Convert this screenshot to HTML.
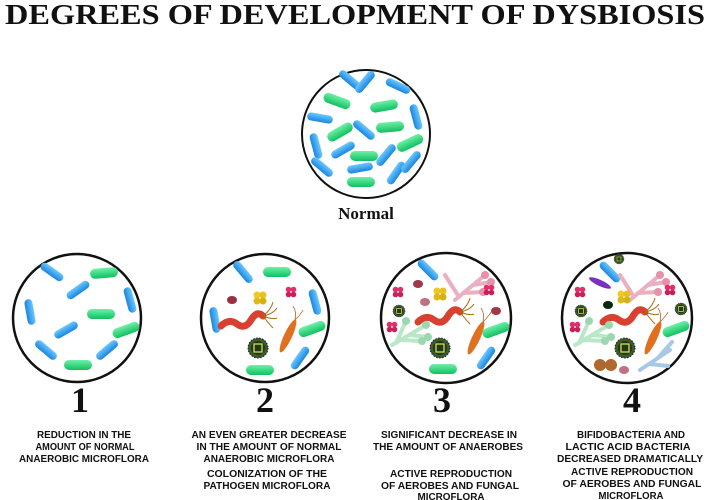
<!DOCTYPE html>
<html><head><meta charset="utf-8"><style>
html,body{margin:0;padding:0;background:#fff;}
svg{display:block}
.t{font-family:"Liberation Sans",sans-serif;font-weight:bold;font-size:10.5px;fill:#111;text-anchor:middle}
.n{font-family:"Liberation Serif",serif;font-weight:bold;font-size:36px;fill:#111;text-anchor:middle}
</style></head><body>
<svg width="711" height="500" viewBox="0 0 711 500" xmlns="http://www.w3.org/2000/svg">
<defs>
<linearGradient id="bl" x1="0" y1="0" x2="0" y2="1"><stop offset="0" stop-color="#6cc7ff"/><stop offset="1" stop-color="#1a86e0"/></linearGradient>
<linearGradient id="gr" x1="0" y1="0" x2="0" y2="1"><stop offset="0" stop-color="#6ff0a8"/><stop offset="1" stop-color="#10c060"/></linearGradient>
<g id="b"><rect x="-13" y="-4" width="26" height="8" rx="4" fill="url(#bl)"/></g>
<g id="g"><rect x="-14" y="-5" width="28" height="10" rx="5" fill="url(#gr)"/></g>
<g id="virus"><circle r="10" fill="#3a5a30" stroke="#222" stroke-width="1" stroke-dasharray="1.5 1.5"/><circle r="7" fill="#1d3a1a"/><rect x="-4" y="-4" width="8" height="8" fill="none" stroke="#e8d84a" stroke-width="1.3"/></g>
<g id="staph"><circle cx="-3" cy="-3" r="3.5" fill="#f0c820"/><circle cx="3" cy="-3" r="3.5" fill="#e8c020"/><circle cx="-3" cy="3" r="3.5" fill="#e0b818"/><circle cx="3" cy="3" r="3.5" fill="#d8b010"/></g>
<g id="pink"><circle cx="-2.5" cy="-2.5" r="2.8" fill="#e0306a"/><circle cx="2.5" cy="-2.5" r="2.8" fill="#e0306a"/><circle cx="-2.5" cy="2.5" r="2.8" fill="#c82058"/><circle cx="2.5" cy="2.5" r="2.8" fill="#c82058"/></g>
<g id="worm"><path d="M-22 4 Q-14 -4 -6 2 T8 -2 T20 -6" stroke="#d84030" stroke-width="7" fill="none" stroke-linecap="round"/><path d="M20 -6 q8 -6 10 -14 M20 -6 q10 -2 14 -8 M20 -6 q10 4 14 2 M20 -6 q6 8 10 12" stroke="#a86a10" stroke-width="1" fill="none"/></g>
<g id="rod"><ellipse rx="4" ry="18" fill="#e07020" transform="rotate(25)"/><path d="M7 -16 q2 -8 -2 -14 M7 -16 q6 -6 8 -10" stroke="#c06020" stroke-width="0.8" fill="none"/></g>
<g id="fungP"><path d="M0 0 L30 -25 M8 -7 L28 -8 M18 -15 L36 -18 M4 -3 L-10 -25" stroke="#e8b0c0" stroke-width="4" fill="none" stroke-linecap="round"/><circle cx="30" cy="-25" r="4" fill="#e890a8"/><circle cx="36" cy="-18" r="4" fill="#e890a8"/><circle cx="28" cy="-8" r="4" fill="#e890a8"/></g>
<g id="fungG"><path d="M0 0 L34 -20 M8 -5 L30 -4 M18 -10 L36 -8 M4 -2 L14 -24" stroke="#b8e8c8" stroke-width="4" fill="none" stroke-linecap="round"/><circle cx="34" cy="-20" r="4" fill="#9ad8b0"/><circle cx="36" cy="-8" r="4" fill="#9ad8b0"/><circle cx="30" cy="-4" r="4" fill="#9ad8b0"/><circle cx="14" cy="-24" r="4" fill="#9ad8b0"/></g>
</defs>

<text x="355" y="24" font-family="Liberation Serif,serif" font-weight="bold" font-size="29" text-anchor="middle" textLength="700" lengthAdjust="spacingAndGlyphs" fill="#111">DEGREES OF DEVELOPMENT OF DYSBIOSIS</text>

<!-- Normal -->
<circle cx="366" cy="134" r="64" fill="#fff" stroke="#111" stroke-width="2"/>
<use href="#b" transform="translate(350,80) rotate(40)"/>
<use href="#b" transform="translate(365,82) rotate(-50)"/>
<use href="#b" transform="translate(398,86) rotate(25)"/>
<use href="#b" transform="translate(416,117) rotate(75)"/>
<use href="#g" transform="translate(337,101) rotate(20)"/>
<use href="#g" transform="translate(384,106) rotate(-10)"/>
<use href="#b" transform="translate(320,118) rotate(10)"/>
<use href="#b" transform="translate(364,130) rotate(40)"/>
<use href="#g" transform="translate(340,132) rotate(-30)"/>
<use href="#g" transform="translate(390,127) rotate(-5)"/>
<use href="#b" transform="translate(316,146) rotate(75)"/>
<use href="#b" transform="translate(343,150) rotate(-30)"/>
<use href="#b" transform="translate(386,155) rotate(-50)"/>
<use href="#g" transform="translate(410,143) rotate(-25)"/>
<use href="#g" transform="translate(364,156) rotate(0)"/>
<use href="#b" transform="translate(322,167) rotate(40)"/>
<use href="#b" transform="translate(360,168) rotate(-10)"/>
<use href="#b" transform="translate(396,173) rotate(-55)"/>
<use href="#b" transform="translate(411,162) rotate(-50)"/>
<use href="#g" transform="translate(361,182)"/>
<text x="366" y="219" font-family="Liberation Serif,serif" font-weight="bold" font-size="17" text-anchor="middle" fill="#111">Normal</text>

<!-- 1 -->
<circle cx="77" cy="318" r="64" fill="#fff" stroke="#111" stroke-width="2.5"/>
<use href="#b" transform="translate(52,272) rotate(35)"/>
<use href="#g" transform="translate(104,273) rotate(-5)"/>
<use href="#b" transform="translate(78,290) rotate(-35)"/>
<use href="#b" transform="translate(130,300) rotate(75)"/>
<use href="#b" transform="translate(30,312) rotate(80)"/>
<use href="#g" transform="translate(101,314)"/>
<use href="#b" transform="translate(66,330) rotate(-30)"/>
<use href="#g" transform="translate(126,330) rotate(-20)"/>
<use href="#b" transform="translate(46,350) rotate(40)"/>
<use href="#b" transform="translate(107,350) rotate(-40)"/>
<use href="#g" transform="translate(78,365)"/>

<!-- 2 -->
<circle cx="265" cy="318" r="64" fill="#fff" stroke="#111" stroke-width="2.5"/>
<use href="#b" transform="translate(243,272) rotate(50)"/>
<use href="#g" transform="translate(277,272)"/>
<use href="#b" transform="translate(315,302) rotate(75)"/>
<use href="#b" transform="translate(215,320) rotate(80)"/>
<use href="#g" transform="translate(312,329) rotate(-20)"/>
<use href="#b" transform="translate(300,358) rotate(-55)"/>
<use href="#g" transform="translate(260,370)"/>
<ellipse cx="232" cy="300" rx="5" ry="4" fill="#9a3040"/>
<use href="#staph" transform="translate(260,298)"/>
<use href="#pink" transform="translate(291,292)"/>
<use href="#worm" transform="translate(243,322)"/>
<use href="#rod" transform="translate(288,336)"/>
<use href="#virus" transform="translate(258,348)"/>

<!-- 3 -->
<circle cx="446" cy="318" r="65" fill="#fff" stroke="#111" stroke-width="2.5"/>
<use href="#b" transform="translate(428,270) rotate(45)"/>
<use href="#fungP" transform="translate(455,300)"/>
<ellipse cx="418" cy="284" rx="5" ry="4" fill="#a03848"/>
<ellipse cx="425" cy="302" rx="5" ry="4" fill="#c07080"/>
<use href="#pink" transform="translate(398,292)"/>
<use href="#pink" transform="translate(489,290)"/>
<use href="#pink" transform="translate(392,327)"/>
<use href="#staph" transform="translate(440,294)"/>
<use href="#virus" transform="translate(399,311) scale(0.6)"/>
<use href="#worm" transform="translate(440,318)"/>
<ellipse cx="496" cy="311" rx="5" ry="4" fill="#a03848"/>
<use href="#fungG" transform="translate(392,345)"/>
<use href="#rod" transform="translate(476,338)"/>
<use href="#g" transform="translate(496,330) rotate(-20)"/>
<use href="#virus" transform="translate(440,348)"/>
<use href="#b" transform="translate(486,358) rotate(-55)"/>
<use href="#g" transform="translate(443,369)"/>

<!-- 4 -->
<circle cx="627" cy="318" r="65" fill="#fff" stroke="#111" stroke-width="2.5"/>
<use href="#virus" transform="translate(619,259) scale(0.5)"/>
<use href="#b" transform="translate(610,272) rotate(45)"/>
<ellipse cx="600" cy="283" rx="12" ry="3" fill="#7a30c0" transform="rotate(25 600 283)"/>
<use href="#fungP" transform="translate(630,300)"/>
<use href="#pink" transform="translate(580,292)"/>
<use href="#pink" transform="translate(670,290)"/>
<use href="#staph" transform="translate(624,297)"/>
<ellipse cx="608" cy="305" rx="5" ry="4" fill="#0a2a10"/>
<use href="#virus" transform="translate(581,311) scale(0.6)"/>
<use href="#virus" transform="translate(681,309) scale(0.6)"/>
<use href="#pink" transform="translate(575,327)"/>
<use href="#worm" transform="translate(625,318)"/>
<use href="#fungG" transform="translate(575,345)"/>
<use href="#rod" transform="translate(653,338)"/>
<use href="#g" transform="translate(676,329) rotate(-20)"/>
<use href="#virus" transform="translate(625,348)"/>
<g transform="translate(640,370)"><path d="M0 0 L30 -20 M10 -6 L28 -4 M18 -12 L32 -28" stroke="#a8c8e8" stroke-width="4" fill="none" stroke-linecap="round"/></g>
<circle cx="600" cy="365" r="6" fill="#b06830"/><circle cx="611" cy="365" r="6" fill="#b06830"/>
<ellipse cx="624" cy="370" rx="5" ry="4" fill="#c07080"/>

<!-- numbers -->
<text class="n" x="80" y="412">1</text>
<text class="n" x="265" y="412">2</text>
<text class="n" x="442" y="412">3</text>
<text class="n" x="632" y="412">4</text>

<g class="t">
<text x="84" y="438" textLength="94" lengthAdjust="spacingAndGlyphs">REDUCTION IN THE</text>
<text x="85" y="450" textLength="99" lengthAdjust="spacingAndGlyphs">AMOUNT OF NORMAL</text>
<text x="84" y="462" textLength="130" lengthAdjust="spacingAndGlyphs">ANAEROBIC MICROFLORA</text>

<text x="269" y="438" textLength="155" lengthAdjust="spacingAndGlyphs">AN EVEN GREATER DECREASE</text>
<text x="269" y="450" textLength="145" lengthAdjust="spacingAndGlyphs">IN THE AMOUNT OF NORMAL</text>
<text x="269" y="462" textLength="131" lengthAdjust="spacingAndGlyphs">ANAEROBIC MICROFLORA</text>
<text x="267" y="477" textLength="120" lengthAdjust="spacingAndGlyphs">COLONIZATION OF THE</text>
<text x="267" y="489" textLength="127" lengthAdjust="spacingAndGlyphs">PATHOGEN MICROFLORA</text>

<text x="449" y="438" textLength="136" lengthAdjust="spacingAndGlyphs">SIGNIFICANT DECREASE IN</text>
<text x="448" y="450" textLength="150" lengthAdjust="spacingAndGlyphs">THE AMOUNT OF ANAEROBES</text>
<text x="451" y="477" textLength="122" lengthAdjust="spacingAndGlyphs">ACTIVE REPRODUCTION</text>
<text x="450" y="489" textLength="138" lengthAdjust="spacingAndGlyphs">OF AEROBES AND FUNGAL</text>
<text x="451" y="500" textLength="67" lengthAdjust="spacingAndGlyphs">MICROFLORA</text>

<text x="631" y="438" textLength="108" lengthAdjust="spacingAndGlyphs">BIFIDOBACTERIA AND</text>
<text x="628" y="450" textLength="125" lengthAdjust="spacingAndGlyphs">LACTIC ACID BACTERIA</text>
<text x="630" y="462" textLength="146" lengthAdjust="spacingAndGlyphs">DECREASED DRAMATICALLY</text>
<text x="632" y="475" textLength="122" lengthAdjust="spacingAndGlyphs">ACTIVE REPRODUCTION</text>
<text x="632" y="487" textLength="139" lengthAdjust="spacingAndGlyphs">OF AEROBES AND FUNGAL</text>
<text x="631" y="499" textLength="65" lengthAdjust="spacingAndGlyphs">MICROFLORA</text>
</g>
</svg>
</body></html>
